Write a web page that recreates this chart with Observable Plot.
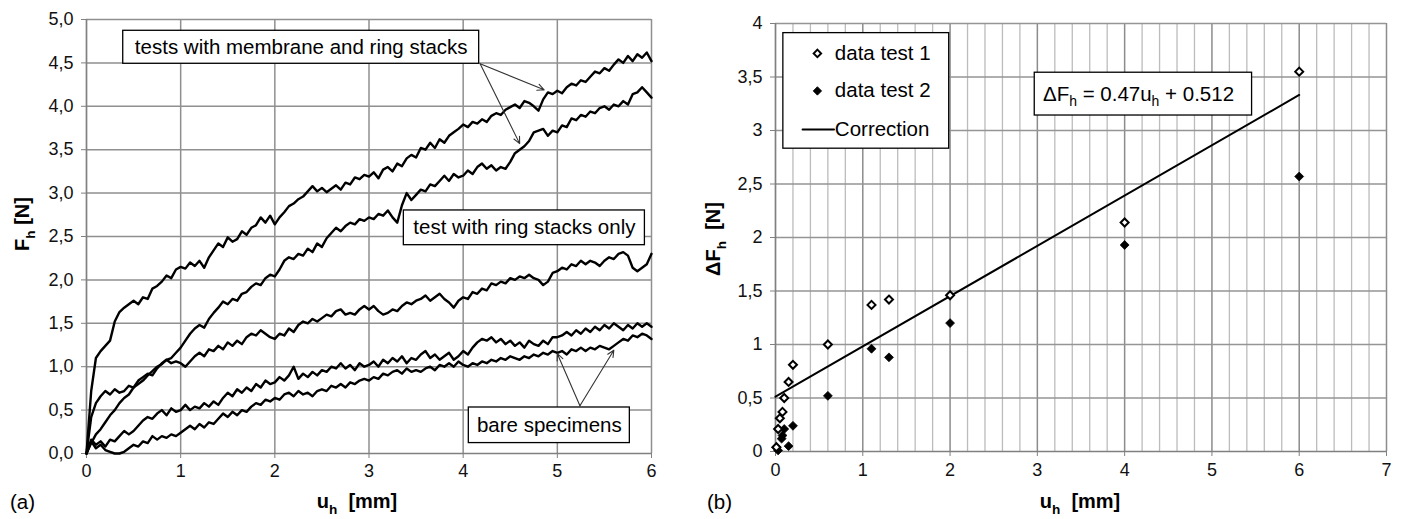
<!DOCTYPE html>
<html>
<head>
<meta charset="utf-8">
<script src="https://cdn.jsdelivr.net/npm/d3@7"></script>
<script src="https://cdn.jsdelivr.net/npm/@observablehq/plot@0.6"></script>
<style>
  html, body { margin: 0; padding: 0; background: #fff; }
  #wrap { display: flex; flex-direction: row; width: 1401px; height: 519px; }
  svg { display: block; }
</style>
</head>
<body>
<div id="wrap"></div>
<script>
// ---------- Panel (a) data ----------
const sampleCount = 121;            // u_h sampled every 0.05 mm from 0 to 6
const uSamples = d3.range(sampleCount).map(i => +(i * 0.05).toFixed(2));

const fMembrane1 = [0.00,0.72,1.10,1.18,1.24,1.30,1.52,1.63,1.68,1.72,1.76,1.72,1.80,1.78,1.90,1.93,1.98,2.05,2.02,2.12,
  2.15,2.13,2.20,2.16,2.22,2.14,2.26,2.34,2.42,2.38,2.49,2.44,2.47,2.56,2.52,2.60,2.63,2.72,2.66,2.74,
  2.64,2.72,2.78,2.85,2.88,2.93,2.96,3.02,3.08,3.02,3.06,3.01,3.05,3.09,3.04,3.12,3.10,3.18,3.16,3.21,
  3.19,3.24,3.17,3.27,3.30,3.25,3.34,3.31,3.40,3.44,3.41,3.52,3.50,3.58,3.52,3.62,3.58,3.66,3.70,3.74,
  3.79,3.76,3.82,3.80,3.85,3.82,3.89,3.92,3.90,3.96,3.99,4.02,3.98,4.06,4.04,4.00,3.95,4.08,4.16,4.14,
  4.18,4.15,4.22,4.26,4.24,4.30,4.28,4.34,4.40,4.38,4.44,4.41,4.48,4.54,4.50,4.58,4.52,4.60,4.56,4.62,4.52];

const fMembrane2 = [0.00,0.12,0.22,0.28,0.36,0.44,0.50,0.58,0.64,0.68,0.76,0.80,0.84,0.90,0.95,1.00,1.03,1.08,1.10,1.16,
  1.22,1.30,1.38,1.44,1.48,1.45,1.55,1.62,1.68,1.75,1.72,1.78,1.76,1.84,1.86,1.92,1.96,1.94,2.02,2.06,
  2.04,2.12,2.22,2.26,2.24,2.30,2.28,2.36,2.32,2.42,2.38,2.48,2.54,2.60,2.56,2.62,2.66,2.64,2.70,2.68,
  2.72,2.70,2.76,2.74,2.80,2.72,2.66,2.86,3.00,2.92,2.98,3.04,3.02,3.10,3.08,3.14,3.20,3.14,3.22,3.18,
  3.20,3.26,3.22,3.30,3.34,3.28,3.32,3.26,3.30,3.28,3.36,3.46,3.50,3.54,3.60,3.70,3.72,3.74,3.66,3.72,
  3.70,3.78,3.76,3.86,3.84,3.90,3.88,3.94,3.92,3.98,4.00,3.96,4.02,4.00,4.06,4.02,4.14,4.16,4.22,4.16,4.10];

const fRingsOnly = [0.00,0.42,0.58,0.66,0.72,0.68,0.74,0.70,0.72,0.78,0.76,0.84,0.88,0.92,0.90,0.98,1.04,1.08,1.04,1.06,
  1.04,1.00,1.06,1.12,1.16,1.12,1.20,1.18,1.24,1.20,1.28,1.24,1.30,1.26,1.34,1.38,1.36,1.42,1.38,1.34,
  1.32,1.38,1.36,1.44,1.40,1.48,1.52,1.50,1.55,1.52,1.56,1.60,1.58,1.64,1.66,1.60,1.62,1.60,1.66,1.70,
  1.66,1.70,1.64,1.60,1.62,1.66,1.64,1.70,1.74,1.72,1.76,1.78,1.82,1.76,1.80,1.84,1.78,1.74,1.68,1.76,
  1.80,1.78,1.86,1.84,1.90,1.88,1.96,1.94,1.98,1.96,2.02,2.00,2.04,2.02,2.06,2.02,2.00,1.94,1.98,2.08,
  2.10,2.14,2.12,2.18,2.16,2.22,2.18,2.22,2.20,2.16,2.22,2.26,2.24,2.30,2.32,2.28,2.14,2.10,2.14,2.18,2.30];

const fBare1 = [0.00,0.16,0.10,0.14,0.08,0.16,0.14,0.20,0.26,0.22,0.26,0.32,0.38,0.42,0.40,0.46,0.50,0.44,0.52,0.48,
  0.50,0.56,0.50,0.54,0.52,0.58,0.54,0.60,0.56,0.64,0.70,0.66,0.74,0.70,0.76,0.72,0.80,0.76,0.84,0.80,
  0.82,0.88,0.84,0.90,1.00,0.86,0.92,0.88,0.94,0.90,0.96,0.94,1.00,0.98,1.04,0.98,1.02,0.96,1.04,1.00,
  1.02,1.06,1.00,1.08,1.04,1.10,1.06,1.12,1.04,1.10,1.08,1.14,1.18,1.10,1.14,1.08,1.12,1.16,1.08,1.12,
  1.18,1.14,1.22,1.28,1.32,1.30,1.34,1.28,1.32,1.26,1.30,1.24,1.28,1.22,1.30,1.26,1.24,1.30,1.26,1.34,
  1.34,1.36,1.40,1.36,1.42,1.38,1.44,1.40,1.46,1.42,1.48,1.44,1.50,1.46,1.42,1.48,1.44,1.50,1.46,1.50,1.46];

const fBare2 = [0.00,0.14,0.06,0.10,0.04,0.02,0.00,0.00,0.02,0.06,0.10,0.08,0.14,0.12,0.20,0.16,0.20,0.18,0.22,0.20,
  0.24,0.28,0.32,0.28,0.34,0.30,0.36,0.34,0.40,0.46,0.42,0.48,0.44,0.50,0.48,0.54,0.58,0.56,0.62,0.60,
  0.64,0.62,0.68,0.70,0.66,0.72,0.68,0.70,0.66,0.72,0.74,0.72,0.78,0.76,0.80,0.76,0.82,0.80,0.84,0.86,
  0.84,0.88,0.86,0.92,0.90,0.94,0.96,0.92,0.98,0.94,0.96,0.94,0.98,1.00,0.96,1.02,1.00,1.04,1.00,1.06,
  1.02,1.00,1.04,1.02,1.06,1.04,1.08,1.06,1.10,1.08,1.12,1.10,1.08,1.12,1.10,1.14,1.12,1.16,1.14,1.18,
  1.16,1.18,1.14,1.20,1.18,1.22,1.18,1.22,1.20,1.24,1.22,1.20,1.24,1.28,1.32,1.30,1.36,1.34,1.38,1.36,1.32];

const uTicksA = [0, 1, 2, 3, 4, 5, 6];
const fTicksA = [0, 0.5, 1, 1.5, 2, 2.5, 3, 3.5, 4, 4.5, 5];
const fTickLabelsA = ["0,0","0,5","1,0","1,5","2,0","2,5","3,0","3,5","4,0","4,5","5,0"];

const boxesA = [
  {x1: 0.39, x2: 4.17, y1: 4.49, y2: 4.87, label: "tests with membrane and ring stacks"},
  {x1: 3.37, x2: 5.93, y1: 2.40, y2: 2.80, label: "test with ring stacks only"},
  {x1: 4.06, x2: 5.77, y1: 0.12, y2: 0.53, label: "bare specimens"}
];
const arrowsA = [
  {x1: 4.18, y1: 4.49, x2: 4.86, y2: 4.19},
  {x1: 4.18, y1: 4.49, x2: 4.60, y2: 3.57},
  {x1: 5.24, y1: 0.55, x2: 5.00, y2: 1.15},
  {x1: 5.24, y1: 0.55, x2: 5.60, y2: 1.19}
];

// ---------- Panel (b) data ----------
const uTest1  = [0.01, 0.03, 0.05, 0.08, 0.10, 0.15, 0.20, 0.60, 1.10, 1.30, 2.00, 4.00, 6.00];
const dFTest1 = [0.04, 0.21, 0.31, 0.37, 0.50, 0.65, 0.81, 1.00, 1.37, 1.42, 1.46, 2.14, 3.55];
const uTest2  = [0.01, 0.03, 0.07, 0.08, 0.10, 0.15, 0.20, 0.60, 1.10, 1.30, 2.00, 4.00, 6.00];
const dFTest2 = [0.04, 0.01, 0.12, 0.15, 0.21, 0.05, 0.24, 0.52, 0.96, 0.88, 1.20, 1.93, 2.57];
const correctionSlope = 0.47, correctionIntercept = 0.512;
const correctionU = [0, 6];

const uTicksB = [0, 1, 2, 3, 4, 5, 6, 7];
const uMinorB = d3.range(0, 35).map(i => +(i * 0.2).toFixed(1)).filter(v => Math.abs(v - Math.round(v)) > 1e-9);
const dFTicksB = [0, 0.5, 1, 1.5, 2, 2.5, 3, 3.5, 4];
const dFTickLabelsB = ["0","0,5","1","1,5","2","2,5","3","3,5","4"];

const legendB = {x1: 0.09, x2: 1.99, y1: 2.83, y2: 3.91};
const legendRows = [
  {y: 3.72, label: "data test 1"},
  {y: 3.37, label: "data test 2"},
  {y: 3.01, label: "Correction"}
];
const equationBox = {x1: 2.97, x2: 5.46, y1: 3.14, y2: 3.54};

// ---------- helpers ----------
const FONT = "'Liberation Sans', Arial, Helvetica, sans-serif";
function richText(svg, parts, {x, y, size = 20, weight = "normal", anchor = "start", rotate = 0}) {
  const t = d3.select(svg).append("text")
    .attr("transform", `translate(${x},${y}) rotate(${rotate})`)
    .attr("text-anchor", anchor)
    .attr("font-family", FONT)
    .attr("font-size", size)
    .attr("font-weight", weight)
    .attr("fill", "#000");
  const shift = size * 0.28;
  let lowered = false;
  for (const p of parts) {
    const isSub = Array.isArray(p);
    const s = t.append("tspan").text(isSub ? p[0] : p);
    if (isSub) { s.attr("font-size", size * 0.68).attr("dy", lowered ? 0 : shift); lowered = true; }
    else if (lowered) { s.attr("dy", -shift); lowered = false; }
  }
  return t;
}

const wrap = document.getElementById("wrap");

// ---------- Panel (a) ----------
const curves = [];
[fMembrane1, fMembrane2, fRingsOnly, fBare1, fBare2].forEach((arr, k) => {
  arr.forEach((v, i) => curves.push({series: k, u: uSamples[i], f: v}));
});

const plotA = Plot.plot({
  width: 700, height: 519,
  marginLeft: 86, marginRight: 49, marginTop: 19, marginBottom: 66,
  style: {fontFamily: FONT, fontSize: "18px", background: "#fff", color: "#000"},
  x: {domain: [0, 6]},
  y: {domain: [0, 5]},
  marks: [
    Plot.gridX(uTicksA.filter(d => d > 0), {stroke: "#8f8f8f", strokeOpacity: 1, strokeWidth: 1.5}),
    Plot.gridY(fTicksA.filter(d => d > 0), {stroke: "#8f8f8f", strokeOpacity: 1, strokeWidth: 1.5}),
    Plot.ruleX([0], {stroke: "#808080", strokeWidth: 1.7}),
    Plot.ruleY([0], {stroke: "#808080", strokeWidth: 1.7}),
    Plot.axisX(uTicksA, {tickSize: 5, tickPadding: 6, stroke: "#808080", fill: "#111", fontSize: 18, label: null}),
    Plot.axisY(fTicksA, {tickSize: 5, tickPadding: 8, stroke: "#808080", fill: "#111", fontSize: 18, label: null,
      tickFormat: d => fTickLabelsA[fTicksA.indexOf(d)]}),
    Plot.line(curves, {x: "u", y: "f", z: "series", stroke: "#000", strokeWidth: 2.4, strokeLinejoin: "round"}),
    Plot.arrow(arrowsA, {x1: "x1", y1: "y1", x2: "x2", y2: "y2", stroke: "#333", strokeWidth: 1.1, headLength: 10, headAngle: 50}),
    Plot.rect(boxesA, {x1: "x1", x2: "x2", y1: "y1", y2: "y2", fill: "#fff", stroke: "#000", strokeWidth: 1.3}),
    Plot.text(boxesA, {x: d => (d.x1 + d.x2) / 2, y: d => (d.y1 + d.y2) / 2, text: "label", fontSize: 20.5, fill: "#000"})
  ]
});
wrap.appendChild(plotA);
richText(plotA, ["F", ["h"], " [N]"], {x: 29, y: 224, size: 20, weight: "bold", anchor: "middle", rotate: -90});
richText(plotA, ["u", ["h"], "  [mm]"], {x: 357, y: 508, size: 20, weight: "bold", anchor: "middle"});
richText(plotA, ["(a)"], {x: 10, y: 509, size: 20.5});

// ---------- Panel (b) ----------
const test1 = uTest1.map((u, i) => ({u, dF: dFTest1[i]}));
const test2 = uTest2.map((u, i) => ({u, dF: dFTest2[i]}));
const correction = correctionU.map(u => ({u, dF: correctionSlope * u + correctionIntercept}));
const legendSym = [{u: 0.48, dF: legendRows[0].y, kind: "open"}, {u: 0.48, dF: legendRows[1].y, kind: "filled"}];
const legendLine = [{u: 0.31, dF: legendRows[2].y}, {u: 0.67, dF: legendRows[2].y}];

const plotB = Plot.plot({
  width: 701, height: 519,
  marginLeft: 75, marginRight: 15, marginTop: 23, marginBottom: 68,
  style: {fontFamily: FONT, fontSize: "18px", background: "#fff", color: "#000"},
  x: {domain: [0, 7]},
  y: {domain: [0, 4]},
  marks: [
    Plot.gridX(uMinorB, {stroke: "#bcbcbc", strokeOpacity: 1, strokeWidth: 1.3}),
    Plot.gridX(uTicksB.filter(d => d > 0), {stroke: "#8c8c8c", strokeOpacity: 1, strokeWidth: 1.5}),
    Plot.gridY(dFTicksB.filter(d => d > 0), {stroke: "#959595", strokeOpacity: 1, strokeWidth: 1.5}),
    Plot.ruleX([0], {stroke: "#808080", strokeWidth: 1.7}),
    Plot.ruleY([0], {stroke: "#808080", strokeWidth: 1.7}),
    Plot.axisX(uTicksB, {tickSize: 5, tickPadding: 7, stroke: "#808080", fill: "#111", fontSize: 18, label: null}),
    Plot.axisY(dFTicksB, {tickSize: 5, tickPadding: 8, stroke: "#808080", fill: "#111", fontSize: 18, label: null,
      tickFormat: d => dFTickLabelsB[dFTicksB.indexOf(d)]}),
    Plot.line(correction, {x: "u", y: "dF", stroke: "#000", strokeWidth: 2}),
    Plot.dot(test2, {x: "u", y: "dF", symbol: "diamond2", r: 4, fill: "#000", stroke: "#000", strokeWidth: 0.8}),
    Plot.dot(test1, {x: "u", y: "dF", symbol: "diamond2", r: 3.6, fill: "#fff", stroke: "#000", strokeWidth: 2}),
    // legend
    Plot.rect([legendB], {x1: "x1", x2: "x2", y1: "y1", y2: "y2", fill: "#fff", stroke: "#000", strokeWidth: 1.3}),
    Plot.dot(legendSym.filter(d => d.kind === "open"), {x: "u", y: "dF", symbol: "diamond2", r: 3.4, fill: "#fff", stroke: "#000", strokeWidth: 1.9}),
    Plot.dot(legendSym.filter(d => d.kind === "filled"), {x: "u", y: "dF", symbol: "diamond2", r: 3.8, fill: "#000", stroke: "#000", strokeWidth: 0.8}),
    Plot.line(legendLine, {x: "u", y: "dF", stroke: "#000", strokeWidth: 2}),
    Plot.text(legendRows, {x: 0.68, y: "y", text: "label", textAnchor: "start", fontSize: 20.5, fill: "#000"}),
    // equation box
    Plot.rect([equationBox], {x1: "x1", x2: "x2", y1: "y1", y2: "y2", fill: "#fff", stroke: "#000", strokeWidth: 1.3})
  ]
});
wrap.appendChild(plotB);
{
  const sx = plotB.scale("x"), sy = plotB.scale("y");
  richText(plotB, ["ΔF", ["h"], " = 0.47u", ["h"], " + 0.512"],
    {x: sx.apply(3.07), y: sy.apply(3.34) + 7, size: 20.5});
}
richText(plotB, ["ΔF", ["h"], "  [N]"], {x: 20, y: 239, size: 20, weight: "bold", anchor: "middle", rotate: -90});
richText(plotB, ["u", ["h"], "  [mm]"], {x: 380, y: 508, size: 20, weight: "bold", anchor: "middle"});
richText(plotB, ["(b)"], {x: 7, y: 509, size: 20.5});
</script>
</body>
</html>
